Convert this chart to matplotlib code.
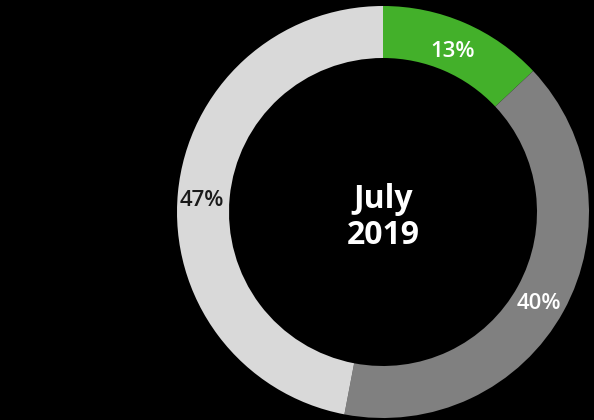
import matplotlib.pyplot as plt

labels = ["13%", "40%", "47%"]
shares = [13, 40, 47]
colors = ["#43b02a", "#808080", "#d9d9d9"]
label_colors = ["white", "white", "#1a1a1a"]
title = "July\n2019"

plt.rcParams["font.family"] = ["Open Sans", "DejaVu Sans"]

fig = plt.figure(figsize=(5.94, 4.2), dpi=100, facecolor="black")
ax = fig.add_axes([0, 0, 1, 1], facecolor="black")

wedges, texts = ax.pie(
    shares,
    colors=colors,
    startangle=90,
    counterclock=False,
    center=(383, 208),
    radius=206,
    labels=labels,
    labeldistance=(206 - 26) / 206,
    wedgeprops=dict(width=52, edgecolor="none"),
    textprops=dict(fontsize=16, fontweight="semibold"),
)
for t, c in zip(texts, label_colors):
    x, y = t.get_position()
    t.set_position((x - 2, y - 5))
    t.set_color(c)
    t.set_horizontalalignment("center")
    t.set_verticalalignment("center")

ax.text(383, 202, title, ha="center", va="center", color="white",
        fontsize=23, fontweight="bold", linespacing=1.12)

ax.set_xlim(0, 594)
ax.set_ylim(0, 420)
ax.set_aspect("equal")
ax.axis("off")

fig.savefig("out.png", dpi=100, facecolor="black")
